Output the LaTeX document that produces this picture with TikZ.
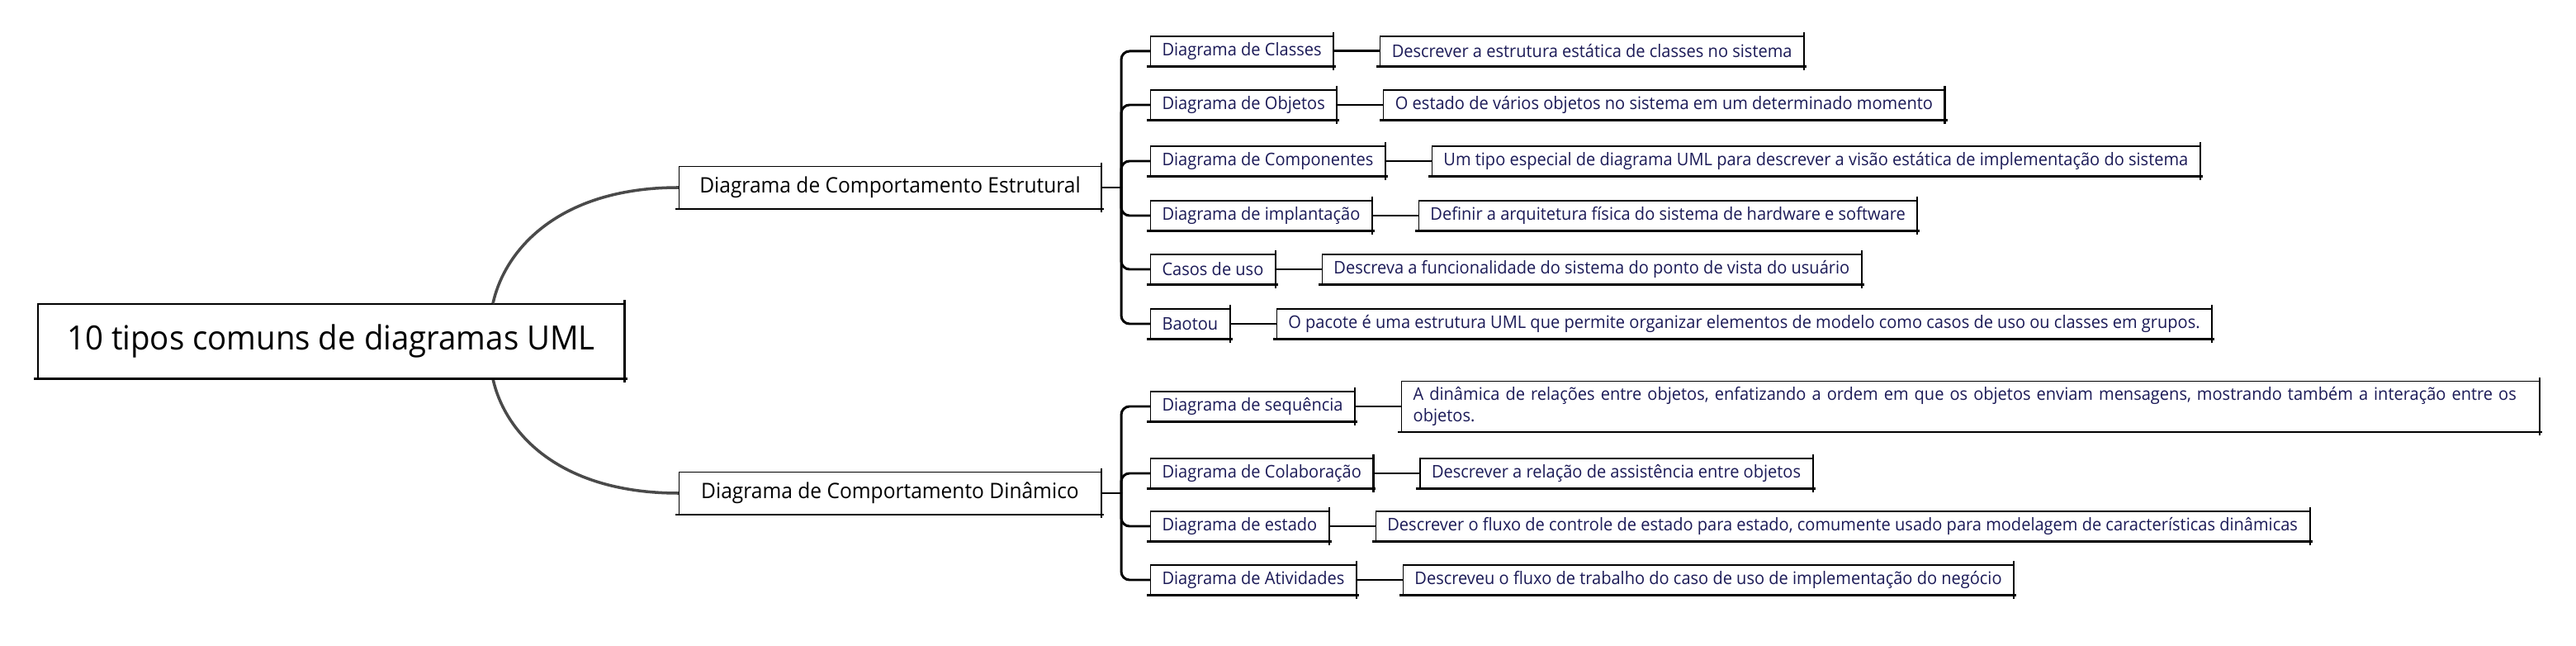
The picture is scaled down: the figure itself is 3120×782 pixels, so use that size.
\documentclass[tikz,border=0pt]{standalone}
\usepackage{fontspec}
\setmainfont{Open Sans}[FakeStretch=0.95]
\usepackage{tikz}
\usetikzlibrary{positioning,calc}

\definecolor{leafink}{HTML}{1B1A57}
\definecolor{curvegray}{HTML}{4A4A4A}

\tikzset{
  rootbox/.style={draw, line width=0.3pt, fill=white, minimum width=71mm, minimum height=9mm, font=\fontsize{11.5}{13}\selectfont},
  branchbox/.style={draw, line width=0.3pt, fill=white, minimum width=51.1mm, minimum height=5.1mm, font=\fontsize{7.35}{9}\selectfont},
  leafbox/.style={draw, line width=0.3pt, fill=white, text=leafink, inner xsep=1.4mm, inner ysep=0.5mm, minimum height=3.6mm, font=\fontsize{6}{7.4}\selectfont},
  link/.style={line width=0.85pt, black},
  curve/.style={line width=1pt, curvegray},
}

\begin{document}
\begin{tikzpicture}[x=0.1mm, y=-0.1mm]
    \useasboundingbox (0,0) rectangle (3120,782);

    % root and the two branches
    \node[rootbox] (root) at (401,413) {10 tipos comuns de diagramas UML};
    \node[branchbox] (b1) at (1078,227) {Diagrama de Comportamento Estrutural};
    \node[branchbox] (b2) at (1078,597) {Diagrama de Comportamento Dinâmico};

    % structural diagrams
    \node[leafbox, anchor=west] (c1) at (1393,62) {Diagrama de Classes};
    \node[leafbox, right=5.6mm of c1] (d1) {Descrever a estrutura estática de classes no sistema};
    \node[leafbox, anchor=west] (c2) at (1393,127) {Diagrama de Objetos};
    \node[leafbox, right=5.6mm of c2] (d2) {O estado de vários objetos no sistema em um determinado momento};
    \node[leafbox, anchor=west] (c3) at (1393,195) {Diagrama de Componentes};
    \node[leafbox, right=5.6mm of c3] (d3) {Um tipo especial de diagrama UML para descrever a visão estática de implementação do sistema};
    \node[leafbox, anchor=west] (c4) at (1393,261) {Diagrama de implantação};
    \node[leafbox, right=5.6mm of c4] (d4) {Definir a arquitetura física do sistema de hardware e software};
    \node[leafbox, anchor=west] (c5) at (1393,326) {Casos de uso};
    \node[leafbox, right=5.6mm of c5] (d5) {Descreva a funcionalidade do sistema do ponto de vista do usuário};
    \node[leafbox, anchor=west] (c6) at (1393,392) {Baotou};
    \node[leafbox, right=5.6mm of c6] (d6) {O pacote é uma estrutura UML que permite organizar elementos de modelo como casos de uso ou classes em grupos.};

    % dynamic diagrams
    \node[leafbox, anchor=west] (c7) at (1393,492) {Diagrama de sequência};
    \node[leafbox, right=5.6mm of c7, text width=135mm, align=left, minimum height=6.1mm] (d7) {A dinâmica de relações entre objetos, enfatizando a ordem em que os objetos enviam mensagens, mostrando também a interação entre os\\objetos.};
    \node[leafbox, anchor=west] (c8) at (1393,573) {Diagrama de Colaboração};
    \node[leafbox, right=5.6mm of c8] (d8) {Descrever a relação de assistência entre objetos};
    \node[leafbox, anchor=west] (c9) at (1393,637) {Diagrama de estado};
    \node[leafbox, right=5.6mm of c9] (d9) {Descrever o fluxo de controle de estado para estado, comumente usado para modelagem de características dinâmicas};
    \node[leafbox, anchor=west] (c10) at (1393,702) {Diagrama de Atividades};
    \node[leafbox, right=5.6mm of c10] (d10) {Descreveu o fluxo de trabalho do caso de uso de implementação do negócio};

    % curves from the root
    \coordinate (r1) at ([xshift=19.6mm]root.north);
    \coordinate (r2) at ([xshift=19.6mm]root.south);
    \draw[curve] (r1) .. controls ($(r1)+(15,-68)$) and ($(b1.west)+(-142,0)$) .. (b1.west);
    \draw[curve] (r2) .. controls ($(r2)+(15,68)$) and ($(b2.west)+(-142,0)$) .. (b2.west);

    % trunks
    \coordinate (j1) at ([xshift=2.4mm]b1.east);
    \coordinate (j2) at ([xshift=2.4mm]b2.east);
    \draw[link] (b1.east) -- (j1);
    \draw[link] (b2.east) -- (j2);
    \foreach \c in {c1,c2,c3,c4,c5,c6}
        \draw[link, rounded corners=1mm] (j1) |- (\c.west);
    \foreach \c in {c7,c8,c9,c10}
        \draw[link, rounded corners=1mm] (j2) |- (\c.west);
    \foreach \c/\d in {c1/d1,c2/d2,c3/d3,c4/d4,c5/d5,c6/d6,c7/d7,c8/d8,c9/d9,c10/d10}
        \draw[link] (\c.east) -- (\d.west);

    % sketchy heavier bottom and right edges
    \foreach \n in {root,b1,b2,c1,c2,c3,c4,c5,c6,c7,c8,c9,c10,d1,d2,d3,d4,d5,d6,d7,d8,d9,d10} {
        \draw[line width=0.6pt] ([xshift=-0.4mm]\n.south west) -- ([xshift=0.3mm]\n.south east);
        \draw[line width=0.6pt] ([yshift=0.4mm]\n.north east) -- ([yshift=-0.4mm]\n.south east);
    }
\end{tikzpicture}
\end{document}
